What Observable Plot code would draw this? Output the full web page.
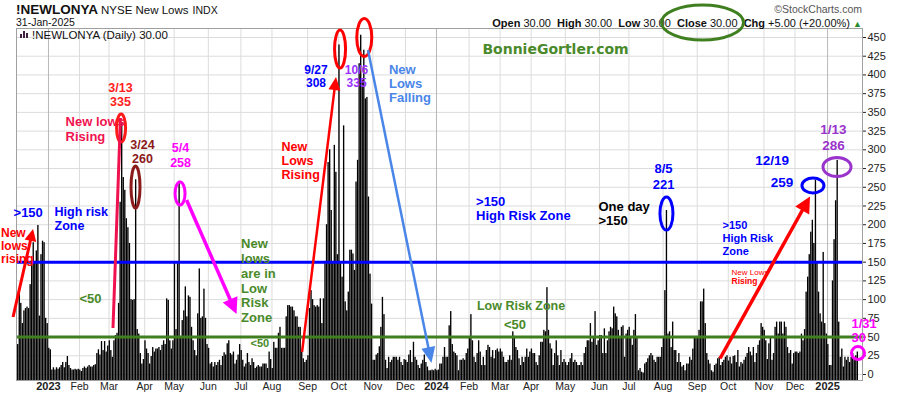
<!DOCTYPE html>
<html><head><meta charset="utf-8">
<script src="https://cdn.jsdelivr.net/npm/d3@7"></script>
<script src="https://cdn.jsdelivr.net/npm/@observablehq/plot@0.6"></script>
<style>body{margin:0;background:#fff;} #chart svg{display:block;}</style>
</head><body><div id="chart"></div>
<script>
// ---- data: NYSE new lows, daily (trading days), grouped by month ----
const monthLabels = ["", "2023", "Feb", "Mar", "Apr", "May", "Jun", "Jul", "Aug", "Sep", "Oct", "Nov", "Dec",
  "2024", "Feb", "Mar", "Apr", "May", "Jun", "Jul", "Aug", "Sep", "Oct", "Nov", "Dec", "2025"];
const dec22 = [40,110,95,68,85,88,90,88,120,148,176,150,165,199,78,160,178,176,75,68];
const jan23 = [35,33,6,9,6,9,7,9,12,16,9,16,24,12,8,6,6,7,6,7];
const feb23 = [6,4,8,10,8,10,12,10,10,12,13,28,33,26,44,32,44,30,38];
const mar23 = [45,32,23,45,52,55,95,230,335,263,246,208,196,175,100,99,100,260,60,54,28,14,20];
const apr23 = [45,34,28,14,24,36,30,34,34,36,32,39,45,40,101,99,45,34,45];
const may23 = [150,60,148,258,50,72,85,117,77,105,103,63,45,32,25,81,141,75,77,114,75,40];
const jun23 = [35,14,16,10,16,12,16,19,12,24,29,26,41,45,28,26,30,14,19,26,40];
const jul23 = [32,19,10,14,28,16,12,21,16,8,10,12,10,10,14,14,14,8,30,20];
const aug23 = [8,43,35,35,55,63,35,35,35,77,92,92,90,90,85,77,77,63,63,30,21,16,19];
const sep23 = [25,88,112,100,92,90,92,90,101,68,101,148,200,283,300,219,150,306,270,160];
const oct23 = [440,148,130,332,97,85,110,166,166,161,139,257,286,415,453,393,433,368,370,237,134,94];
const nov23 = [19,19,26,28,37,63,103,80,19,8,23,16,19,23,23,23,19,23,16,12,20];
const dec23 = [19,16,26,32,16,43,23,19,12,8,14,19,26,16,10,5,5,6,5,7];
const jan24 = [5,6,14,14,23,36,23,23,65,84,40,30,28,25,5,19,19,21,19,28,34];
const feb24 = [50,80,45,23,16,28,45,30,12,23,12,32,39,36,23,32,21,32,34,30];
const mar24 = [34,30,23,16,16,19,25,19,57,51,36,32,21,12,23,16,23,34,23,30];
const apr24 = [34,28,28,16,12,25,43,43,59,57,116,59,41,34,12,28,45,25,12,32,16,20];
const may24 = [16,12,16,21,28,16,19,16,12,12,16,12,28,36,45,45,68,43,48,84,39,45];
const jun24 = [52,52,28,61,28,45,57,63,61,90,81,77,59,50,63,65,23,54,59];
const jul24 = [63,50,39,59,80,50,5,8,3,2,14,16,21,25,28,25,19,16,23,23,23,36];
const aug24 = [50,112,219,54,57,36,70,32,32,16,28,16,10,12,5,14,14,23,19,34,50,50];
const sep24 = [50,59,97,97,114,68,28,19,14,5,3,12,14,21,23,12,16,19,23,25];
const oct24 = [18,23,14,24,25,16,32,10,16,14,19,23,28,36,30,25,36,16,28,39,45,68,63];
const nov24 = [59,45,20,41,50,19,28,63,70,54,70,70,54,70,63,36,28,32,14,28];
const dec24 = [30,30,28,30,54,45,60,110,130,160,190,206,175,259,150,110,81,70,163,68,54];
const jan25 = [40,12,12,125,180,232,286,70,23,34,10,23,19,23,16,23,28,20,25,30];
const months = [dec22,jan23,feb23,mar23,apr23,may23,jun23,jul23,aug23,sep23,oct23,nov23,dec23,
  jan24,feb24,mar24,apr24,may24,jun24,jul24,aug24,sep24,oct24,nov24,dec24,jan25];
const yTicks = d3.range(0, 451, 25);
const highRisk = 150, lowRisk = 50;

// ---- build tables ----
const bars = [], monthStarts = [];
let idx = 0;
months.forEach((arr, m) => {
  monthStarts.push({i: idx, label: monthLabels[m], year: /^\d{4}$/.test(monthLabels[m])});
  arr.forEach(v => bars.push({i: idx++, v}));
});
const gridMonths = monthStarts.slice(1);

const FONT = "'Liberation Sans', Arial, Helvetica, sans-serif";
const RED = "#ff0000", BLUE = "#0000ff", GREEN = "#4a8a2a", MAG = "#ff00ff";

// annotations in data coordinates (trading-day index, value)
const notes = [
  {i:-11.1, v:172, text:"New\nlows\nrising", fill:RED, size:12, anchor:"start", lh:1.11},
  {i:-3, v:216, text:">150", fill:BLUE, size:13, anchor:"start"},
  {i:23.4, v:208, text:"High risk\nZone", fill:BLUE, size:12.5, anchor:"start", lh:1.12},
  {i:39.5, v:101.5, text:"<50", fill:GREEN, size:13, anchor:"start"},
  {i:65.9, v:374, text:"3/13\n335", fill:"#ff2020", size:12.5, anchor:"middle", lh:1.12},
  {i:30.5, v:328, text:"New lows\nRising", fill:"#f0124f", size:13, anchor:"start", lh:1.15},
  {i:80.1, v:297.7, text:"3/24\n260", fill:"#8b1a1a", size:12.5, anchor:"middle", lh:1.12},
  {i:104.6, v:293, text:"5/4\n258", fill:MAG, size:12.5, anchor:"middle", lh:1.16},
  {i:143.6, v:125.5, text:"New\nlows\nare in\nLow\nRisk\nZone", fill:GREEN, size:13, anchor:"start", lh:1.14},
  {i:149.7, v:41.4, text:"<50", fill:GREEN, size:11, anchor:"start"},
  {i:169.7, v:285.7, text:"New\nLows\nRising", fill:RED, size:12.5, anchor:"start", lh:1.12},
  {i:191.9, v:398.5, text:"9/27\n308", fill:BLUE, size:12, anchor:"middle", lh:1.1},
  {i:218, v:398.5, text:"10/6\n335", fill:"#9933ff", size:12, anchor:"middle", lh:1.1},
  {i:238.9, v:388.5, text:"New\nLows\nFalling", fill:"#4a86e8", size:13, anchor:"start", lh:1.08},
  {i:295, v:222, text:">150\nHigh Risk Zone", fill:BLUE, size:13, anchor:"start", lh:1.12},
  {i:295.6, v:91.5, text:"Low Risk Zone", fill:GREEN, size:12.5, anchor:"start"},
  {i:320.1, v:66.8, text:"<50", fill:GREEN, size:13, anchor:"middle"},
  {i:373.9, v:215, text:"One day\n>150", fill:"#000", size:13, anchor:"start", lh:1.08},
  {i:415.8, v:265.7, text:"8/5\n221", fill:BLUE, size:13, anchor:"middle", lh:1.23},
  {i:453.8, v:182.9, text:">150\nHigh Risk\nZone", fill:BLUE, size:11, anchor:"start", lh:1.18},
  {i:459.6, v:136.2, text:"New Lows", fill:RED, size:8, anchor:"start", weight:"normal"},
  {i:459.6, v:124.2, text:"Rising", fill:RED, size:8.5, anchor:"start"},
  {i:485.7, v:285.7, text:"12/19", fill:BLUE, size:13.5, anchor:"middle"},
  {i:492.1, v:256.3, text:"259", fill:BLUE, size:13.5, anchor:"middle"},
  {i:525.3, v:317.8, text:"1/13\n286", fill:"#9933cc", size:13.5, anchor:"middle", lh:1.18},
  {i:536.9, v:58.7, text:"1/31\n30", fill:MAG, size:13, anchor:"start", lh:1.1},
  {i:346.2, v:433.9, text:"BonnieGortler.com", fill:GREEN, size:14, anchor:"middle", font:"'DejaVu Sans', Verdana, sans-serif"}
];
const arrows = [
  {i1:-3.0, v1:76.1, i2:9.9, v2:193.6, color:RED, w:3, head:12, hw:6},
  {i1:61.4, v1:61.4, i2:66.2, v2:341.8, color:"#f0124f", w:3, head:0},
  {i1:108.8, v1:232.3, i2:141, v2:80.1, color:MAG, w:3.5, head:16, hw:8},
  {i1:183.2, v1:29.4, i2:205.1, v2:396.5, color:RED, w:2.5, head:13, hw:6},
  {i1:225.7, v1:432.6, i2:266.6, v2:14.7, color:"#4a86e8", w:2.5, head:16, hw:7},
  {i1:452.5, v1:20.7, i2:510.5, v2:237, color:RED, w:3.5, head:16, hw:8}
];
const rings = [
  {i:66.6, v:328.4, rx:4.5, ry:14, color:"#ff1a1a"},
  {i:75.9, v:249.7, rx:4.5, ry:21, color:"#8b1a1a"},
  {i:104.6, v:241, rx:5, ry:11.5, color:MAG},
  {i:207.7, v:433.9, rx:5.5, ry:19, color:RED},
  {i:223.3, v:449.3, rx:7.5, ry:19, color:RED},
  {i:418, v:214.3, rx:6.5, ry:16.5, color:BLUE},
  {i:512.4, v:251.7, rx:11, ry:7.5, color:BLUE},
  {i:527.9, v:276.4, rx:14, ry:9.5, color:"#9933cc"},
  {i:541.4, v:28, rx:6.5, ry:6.5, color:MAG}
];

const plot = Plot.plot({
  width: 900, height: 396,
  marginTop: 28, marginBottom: 16, marginLeft: 16, marginRight: 38,
  style: {fontFamily: FONT, fontSize: "11px", color: "#222", background: "#fff"},
  x: {domain: [-1.1, 544.0], axis: null},
  y: {domain: [-8, 462], axis: null},
  marks: [
    Plot.ruleY(yTicks, {stroke: "#dcdcdc", strokeWidth: 1}),
    Plot.ruleX(gridMonths, {x: d => d.i - 0.5, stroke: d => d.year ? "#b8b8b8" : "#dcdcdc", strokeWidth: 1}),
    Plot.rect(bars, {x1: d => d.i - 0.5, x2: d => d.i + 0.5, y1: -8, y2: "v", fill: "#000", insetLeft: 0.1, insetRight: 0.1}),
    Plot.ruleY([highRisk], {stroke: "#0000ff", strokeWidth: 3}),
    Plot.ruleY([lowRisk], {stroke: "#3f7f1f", strokeWidth: 3}),
    Plot.frame({stroke: "#a0a0a0"}),
    Plot.axisY(yTicks, {anchor: "right", tickSize: 3, tickPadding: 2, fontSize: 11, label: null}),
    Plot.text(gridMonths.filter(d => !d.year), {x: d => d.i - 0.5, frameAnchor: "bottom", dy: 6, lineAnchor: "middle", text: "label", fontSize: 10.5, fill: "#222"}),
    Plot.text(gridMonths.filter(d => d.year), {x: d => d.i - 0.5, frameAnchor: "bottom", dy: 6, lineAnchor: "middle", text: "label", fontSize: 11, fontWeight: "bold", fill: "#222"}),
    ...notes.map(n => Plot.text([n], {x: "i", y: "v", text: "text", fill: n.fill, fontSize: n.size,
      fontWeight: n.weight || "bold", textAnchor: n.anchor, lineAnchor: "middle", lineHeight: n.lh || 1.1,
      fontFamily: n.font || FONT}))
  ]
});
document.getElementById("chart").appendChild(plot);

// ---- overlays positioned through the plot's own scales ----
const X = plot.scale("x"), Y = plot.scale("y");
const px = i => X.apply(i), py = v => Y.apply(v);
const svg = d3.select(plot);
const g = svg.append("g");
rings.forEach(r => g.append("ellipse").attr("cx", px(r.i)).attr("cy", py(r.v)).attr("rx", r.rx).attr("ry", r.ry)
  .attr("fill", "none").attr("stroke", r.color).attr("stroke-width", 3));
arrows.forEach(a => {
  const x1 = px(a.i1), y1 = py(a.v1), x2 = px(a.i2), y2 = py(a.v2);
  const dx = x2 - x1, dy = y2 - y1, len = Math.hypot(dx, dy), ux = dx / len, uy = dy / len;
  const bx = x2 - ux * a.head, by = y2 - uy * a.head;
  g.append("line").attr("x1", x1).attr("y1", y1)
    .attr("x2", a.head ? bx + ux * 2 : x2).attr("y2", a.head ? by + uy * 2 : y2)
    .attr("stroke", a.color).attr("stroke-width", a.w);
  if (a.head) g.append("polygon")
    .attr("points", [[x2, y2], [bx - uy * a.hw, by + ux * a.hw], [bx + uy * a.hw, by - ux * a.hw]].map(p => p.join(",")).join(" "))
    .attr("fill", a.color);
});

// header texts
const hdr = svg.append("g").attr("font-family", FONT).attr("fill", "#111").attr("text-anchor", "start");
const t1 = hdr.append("text").attr("x", 16).attr("y", 14);
t1.append("tspan").attr("font-weight", "bold").attr("font-size", 13.5).text("!NEWLONYA");
t1.append("tspan").attr("font-size", 11.5).attr("dx", 3).text("NYSE New Lows");
t1.append("tspan").attr("font-size", 10.5).attr("dx", 4).text("INDX");
hdr.append("text").attr("x", 16).attr("y", 26).attr("font-size", 10.5).text("31-Jan-2025");
hdr.append("text").attr("x", 862).attr("y", 12.5).attr("text-anchor", "end").attr("font-size", 10.5).attr("fill", "#555").text("\u00A9StockCharts.com");
const ohlc = hdr.append("text").attr("x", 862).attr("y", 27).attr("text-anchor", "end").attr("font-size", 11).style("white-space", "pre");
[["Open", " 30.00  "], ["High", " 30.00  "], ["Low", " 30.00  "], ["Close", " 30.00  "], ["Chg", " +5.00 (+20.00%) "]].forEach(([k, v]) => {
  ohlc.append("tspan").attr("font-weight", "bold").text(k);
  ohlc.append("tspan").text(v);
});
ohlc.append("tspan").attr("fill", "#2a8a2a").attr("font-size", 9).text("\u25B2");
hdr.append("ellipse").attr("cx", 702.5).attr("cy", 22.5).attr("rx", 41).attr("ry", 17.5)
  .attr("fill", "none").attr("stroke", "#3f7f1f").attr("stroke-width", 3);
// legend inside plot
const lg = svg.append("g").attr("text-anchor", "start");
[[20, 34, 4], [23, 31, 7], [26, 33, 5]].forEach(([x, y, h]) => lg.append("rect").attr("x", x).attr("y", y).attr("width", 2).attr("height", h).attr("fill", "#402040"));
lg.append("text").attr("x", 32).attr("y", 39).attr("font-family", FONT).attr("font-size", 11.5).attr("fill", "#111").text("!NEWLONYA (Daily) 30.00");
</script>
</body></html>
